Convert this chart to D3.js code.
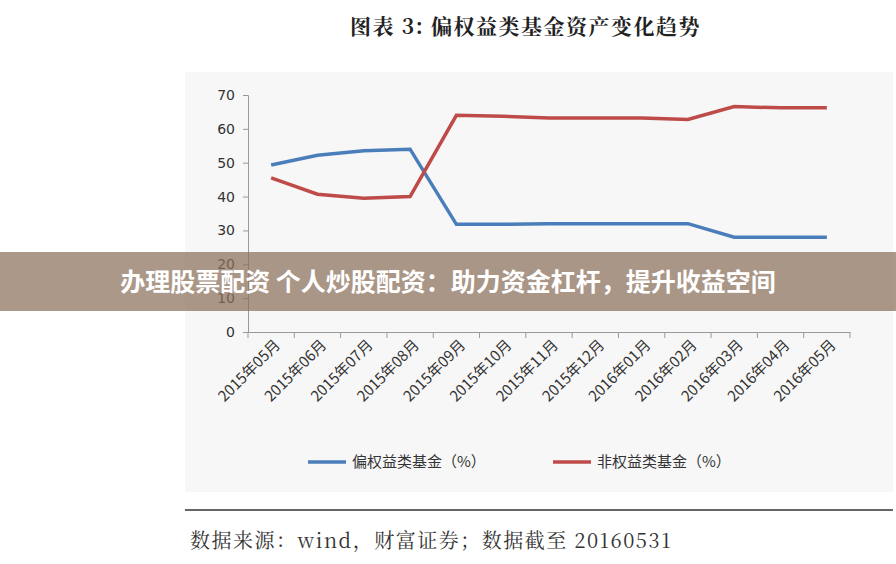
<!DOCTYPE html>
<html><head><meta charset="utf-8">
<script src="https://cdn.jsdelivr.net/npm/d3@7"></script>
<style>body{margin:0;background:#fff;}svg{display:block;}</style>
</head><body>
<script>
var months = ["2015年05月","2015年06月","2015年07月","2015年08月","2015年09月","2015年10月","2015年11月","2015年12月","2016年01月","2016年02月","2016年03月","2016年04月","2016年05月"];
var biasEquity = [49.3,52.2,53.5,54.0,31.8,31.8,32.0,32.0,32.0,32.0,28.0,28.0,28.0];
var nonEquity = [45.5,40.7,39.5,40.0,64.0,63.7,63.2,63.2,63.2,62.8,66.6,66.2,66.2];
var yTicks = [0,10,20,30,40,50,60,70];

var W = 896, H = 564;
var svg = d3.select("body").append("svg").attr("width", W).attr("height", H);
var serif = "'Noto Serif CJK SC','Noto Sans CJK SC',serif";
var sans = "'Noto Sans CJK SC',sans-serif";

// title
svg.append("text").attr("x", 350).attr("y", 34).attr("font-family", serif).attr("font-size", 21)
  .attr("letter-spacing", 1.5).attr("font-weight", "bold").attr("fill", "#222").text("图表 3:  偏权益类基金资产变化趋势");

// chart box
svg.append("rect").attr("x", 185).attr("y", 72).attr("width", 708).attr("height", 420).attr("fill", "#f7f7f7");
svg.append("line").attr("x1", 185).attr("x2", 893).attr("y1", 510).attr("y2", 510).attr("stroke", "#333").attr("stroke-width", 1.5);

var x = d3.scaleBand().domain(months).range([248, 850]);
var y = d3.scaleLinear().domain([0, 70]).range([332, 95]);

var yAxis = svg.append("g").attr("transform", "translate(248,0)")
  .call(d3.axisLeft(y).tickValues(yTicks).tickSize(5).tickPadding(8));
yAxis.selectAll("text").attr("font-family", "'DejaVu Sans',sans-serif").attr("font-size", 14).attr("fill", "#333");
yAxis.selectAll("line,path").attr("stroke", "#999");

var xAxis = svg.append("g").attr("transform", "translate(0,332)")
  .call(d3.axisBottom(x).tickSize(0).tickFormat(""));
xAxis.select("path").attr("stroke", "#999");
svg.append("g").selectAll("line").data(months.concat(["end"])).enter().append("line")
  .attr("x1", function(d, i){ return 248 + i * x.step(); })
  .attr("x2", function(d, i){ return 248 + i * x.step(); })
  .attr("y1", 332).attr("y2", 338).attr("stroke", "#999");

svg.append("g").selectAll("text").data(months).enter().append("text")
  .attr("transform", function(d){ return "translate(" + (x(d) + x.bandwidth() / 2 + 10) + ",346) rotate(-45)"; })
  .attr("text-anchor", "end").attr("font-family", sans).attr("font-size", 15).attr("fill", "#333").text(function(d){ return d; });

var line = d3.line().x(function(d, i){ return x(months[i]) + x.bandwidth() / 2; }).y(function(d){ return y(d); });
svg.append("path").datum(biasEquity).attr("d", line).attr("fill", "none").attr("stroke", "#4a7ebb").attr("stroke-width", 3.5);
svg.append("path").datum(nonEquity).attr("d", line).attr("fill", "none").attr("stroke", "#be4b48").attr("stroke-width", 3.5);

// legend
var legend = [["偏权益类基金（%）", "#4a7ebb", 308], ["非权益类基金（%）", "#be4b48", 553]];
legend.forEach(function(l){
  svg.append("line").attr("x1", l[2]).attr("x2", l[2] + 38).attr("y1", 462).attr("y2", 462).attr("stroke", l[1]).attr("stroke-width", 3.5);
  svg.append("text").attr("x", l[2] + 44).attr("y", 467).attr("font-family", sans).attr("font-size", 15).attr("fill", "#333").text(l[0]);
});

// source
svg.append("text").attr("x", 190).attr("y", 548).attr("font-family", serif).attr("font-size", 20).attr("letter-spacing", 1.5).attr("fill", "#333")
  .text("数据来源：wind，财富证券；数据截至 20160531");

// banner overlay
svg.append("rect").attr("x", 0).attr("y", 252).attr("width", W).attr("height", 59).attr("fill", "#8c705c").attr("opacity", 0.72);
svg.append("text").attr("x", 448).attr("y", 291).attr("text-anchor", "middle").attr("font-family", sans)
  .attr("font-size", 25).attr("font-weight", "bold").attr("fill", "#fff").text("办理股票配资 个人炒股配资：助力资金杠杆，提升收益空间");
</script>
</body></html>
